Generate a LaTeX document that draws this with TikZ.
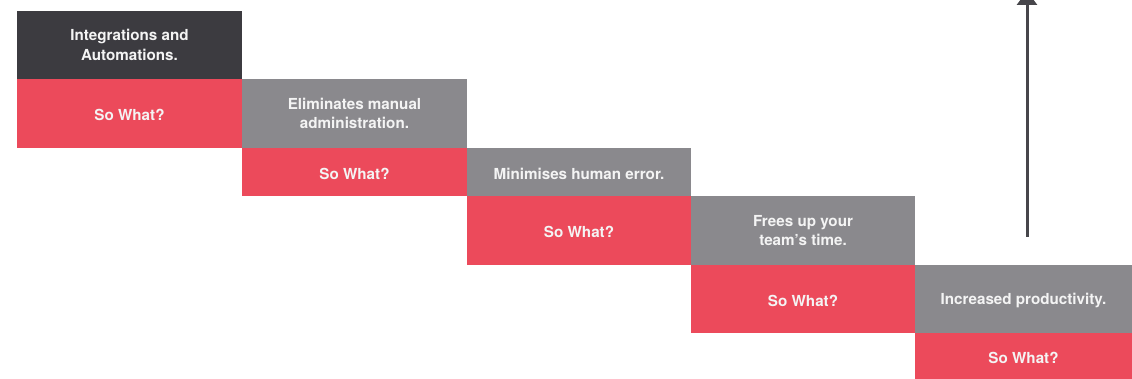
\documentclass[tikz,border=0pt]{standalone}
\usepackage{fontspec}
\setmainfont{TeX Gyre Heros}
\usetikzlibrary{arrows.meta}
\definecolor{inkdark}{HTML}{3C3B40}
\definecolor{stepgrey}{HTML}{8A898D}
\definecolor{stepred}{HTML}{EC4A5B}
\definecolor{arrowgrey}{HTML}{47464B}
\definecolor{lighttext}{HTML}{F4F4F4}
\begin{document}
\begin{tikzpicture}[x=1pt,y=-1pt,
  block/.style={anchor=north west, inner sep=0pt, outer sep=0pt,
    text=lighttext, align=center,
    font=\fontsize{15.2}{19.5}\selectfont\bfseries,
    execute at begin node={\rule{0pt}{15pt}}},
  claim/.style={block, fill=stepgrey},
  start/.style={block, fill=inkdark},
  sowhat/.style={block, fill=stepred}]
\useasboundingbox (0,0) rectangle (1132,379);
% first step
\node[start, minimum width=225pt, minimum height=68pt] (c1) at (17,11) {Integrations and\\Automations.};
\node[sowhat, minimum width=225pt, minimum height=69pt] (s1) at (17,79) {So What?};
% second step
\node[claim, minimum width=225pt, minimum height=69pt] (c2) at (242,79) {Eliminates manual\\administration.};
\node[sowhat, minimum width=225pt, minimum height=48pt] (s2) at (242,148) {So What?};
% third step
\node[claim, minimum width=224pt, minimum height=48pt] (c3) at (467,148) {Minimises human error.};
\node[sowhat, minimum width=224pt, minimum height=69pt] (s3) at (467,196) {So What?};
% fourth step
\node[claim, minimum width=224pt, minimum height=69pt] (c4) at (691,196) {Frees up your\\team's time.};
\node[sowhat, minimum width=224pt, minimum height=68pt] (s4) at (691,265) {So What?};
% fifth step
\node[claim, minimum width=217pt, minimum height=68pt] (c5) at (915,265) {Increased productivity.};
\node[sowhat, minimum width=217pt, minimum height=46pt] (s5) at (915,333) {So What?};
% rising arrow
\coordinate (foot) at (1027,237);
\coordinate (tip) at (1027,-9);
\draw[arrowgrey, line width=3pt, -{Triangle[width=20pt,length=14pt]}] (foot) -- (tip);
\end{tikzpicture}
\end{document}
